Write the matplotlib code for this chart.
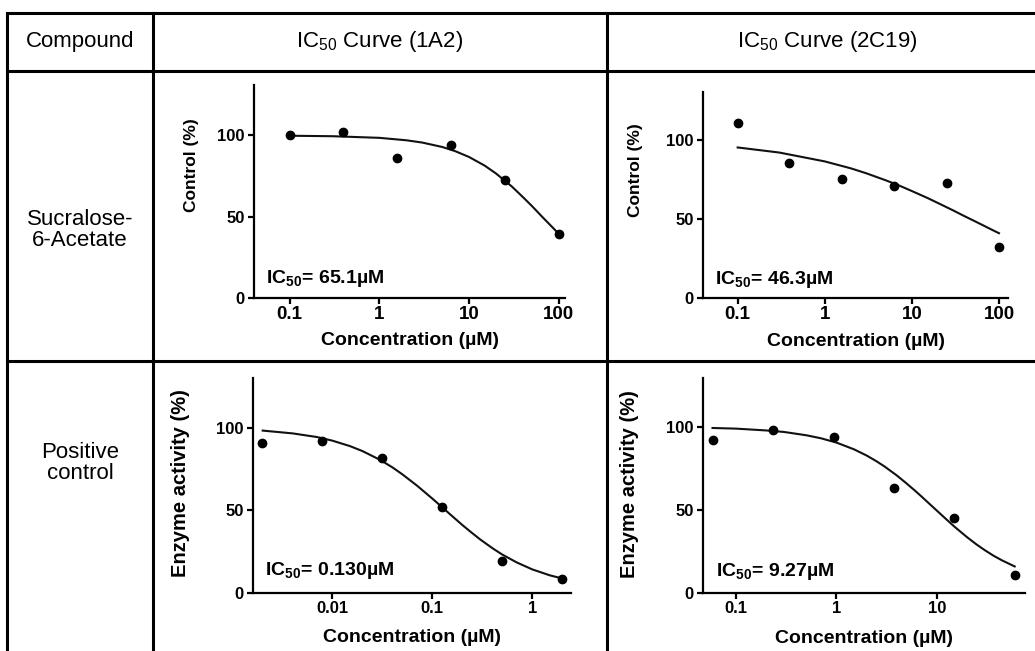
import matplotlib
matplotlib.use('Agg')
import matplotlib.pyplot as plt
from matplotlib.lines import Line2D

plt.rcParams['font.family'] = 'Liberation Sans'
plt.rcParams['mathtext.fontset'] = 'custom'
plt.rcParams['mathtext.rm'] = 'Liberation Sans'
plt.rcParams['mathtext.bf'] = 'Liberation Sans:bold'

# table text
headers = ['Compound', r'IC$_{\mathrm{50}}$ Curve (1A2)', r'IC$_{\mathrm{50}}$ Curve (2C19)']
compounds = ['Sucralose-\n6-Acetate', 'Positive\ncontrol']

# measured points
s6a_conc = [0.1, 0.39, 1.56, 6.25, 25, 100]
s6a_1a2 = [100, 101.9, 86, 94, 72.6, 39.3]
s6a_2c19 = [110.7, 84.9, 74.8, 70.9, 72.3, 32.1]
pc_1a2_conc = [0.00195, 0.0078, 0.031, 0.125, 0.5, 2.0]
pc_1a2 = [90.4, 91.7, 81.7, 51.8, 19.6, 8.4]
pc_2c19_conc = [0.0586, 0.234, 0.94, 3.75, 15, 60]
pc_2c19 = [92.4, 98.4, 94, 63, 45, 11]

# fitted curves
fit_s6a_x = [0.1, 0.3, 1, 2, 3, 5, 7, 10, 15, 20, 30, 40, 50, 65, 80, 100]
fit_s6a_1a2 = [99.8, 99.5, 98.5, 97.0, 95.6, 92.9, 90.3, 86.7, 81.3, 76.5, 68.5, 61.9, 56.6, 50.0, 44.9, 39.4]
fit_s6a_2c19 = [95.0, 91.8, 86.2, 81.8, 78.7, 74.3, 71.2, 67.5, 63.2, 59.9, 55.2, 51.7, 49.1, 46.0, 43.5, 40.9]
fit_pc_1a2_x = [0.002, 0.004, 0.007, 0.01, 0.015, 0.02, 0.03, 0.04, 0.05, 0.07, 0.1, 0.12,
                0.15, 0.2, 0.25, 0.3, 0.4, 0.5, 0.7, 1, 1.5, 2]
fit_pc_1a2 = [98.2, 96.5, 94.3, 92.1, 88.8, 85.8, 80.5, 75.9, 71.8, 65.0, 57.1, 52.9,
              47.7, 41.1, 36.3, 32.5, 27.1, 23.3, 18.5, 14.3, 10.7, 8.8]
fit_pc_2c19_x = [0.058, 0.1, 0.2, 0.3, 0.5, 0.7, 1, 1.5, 2, 2.5, 3, 4, 5, 6, 7, 8.5, 10,
                 12, 15, 20, 25, 30, 37, 45, 60]
fit_pc_2c19 = [99.4, 99.0, 97.9, 97.0, 95.0, 93.2, 90.6, 86.5, 82.8, 79.4, 76.3, 70.8, 66.0,
               61.9, 58.3, 53.6, 49.7, 45.3, 40.0, 33.7, 29.2, 25.9, 22.4, 19.6, 16.0]

ic50_labels = [r'IC$_{\mathbf{50}}$= 65.1µM', r'IC$_{\mathbf{50}}$= 46.3µM',
               r'IC$_{\mathbf{50}}$= 0.130µM', r'IC$_{\mathbf{50}}$= 9.27µM']
ylabels = ['Control (%)', 'Control (%)', 'Enzyme activity (%)', 'Enzyme activity (%)']
xticks_top = [0.1, 1, 10, 100]
xticklabels_top = ['0.1', '1', '10', '100']
xticks_pc1a2 = [0.01, 0.1, 1]
xticklabels_pc1a2 = ['0.01', '0.1', '1']
xticks_pc2c19 = [0.1, 1, 10]
xticklabels_pc2c19 = ['0.1', '1', '10']
yticks = [0, 50, 100]

W, H = 1035, 651


def fx(px):
    return px / W


def fy(py):
    return 1 - py / H


fig = plt.figure(figsize=(W / 100, H / 100), dpi=100)

# table grid
lw_table = 2.2
for y in [13, 71, 361]:
    fig.add_artist(Line2D([fx(7), fx(1035)], [fy(y), fy(y)], transform=fig.transFigure,
                          color='black', lw=lw_table))
for x in [7, 153, 607]:
    fig.add_artist(Line2D([fx(x), fx(x)], [fy(13), fy(651)], transform=fig.transFigure,
                          color='black', lw=lw_table))

for txt, cx in zip(headers, [80, 380, 827]):
    fig.text(fx(cx), fy(42), txt, ha='center', va='center', fontsize=16)
for txt, cy in zip(compounds, [230, 463]):
    fig.text(fx(80), fy(cy), txt, ha='center', va='center', fontsize=16, linespacing=1.0)

# panels: (left, top, right, bottom) in pixels
panels = [
    dict(box=(254, 85, 565, 298), x=s6a_conc, y=s6a_1a2, fx_=fit_s6a_x, fy_=fit_s6a_1a2,
         xlim=(0.04, 117), ylim=(0, 131), ticks=xticks_top, tl=xticklabels_top, tfs=13.5,
         ylab=(199, 165), yfs=12.5, xlab=(410, 332), ann=(0.04, 0.069)),
    dict(box=(703, 92, 1008, 298), x=s6a_conc, y=s6a_2c19, fx_=fit_s6a_x, fy_=fit_s6a_2c19,
         xlim=(0.04, 127), ylim=(0, 130), ticks=xticks_top, tl=xticklabels_top, tfs=13.5,
         ylab=(643, 170), yfs=12.5, xlab=(856, 333), ann=(0.04, 0.07)),
    dict(box=(253, 378, 571, 593), x=pc_1a2_conc, y=pc_1a2, fx_=fit_pc_1a2_x, fy_=fit_pc_1a2,
         xlim=(0.0016, 2.45), ylim=(0, 130), ticks=xticks_pc1a2, tl=xticklabels_pc1a2, tfs=12,
         ylab=(190, 483), yfs=14.5, xlab=(412, 629), ann=(0.039, 0.082)),
    dict(box=(703, 378, 1025, 593), x=pc_2c19_conc, y=pc_2c19, fx_=fit_pc_2c19_x, fy_=fit_pc_2c19,
         xlim=(0.0466, 76), ylim=(0, 129.5), ticks=xticks_pc2c19, tl=xticklabels_pc2c19, tfs=12,
         ylab=(639, 484), yfs=14.5, xlab=(864, 630), ann=(0.04, 0.077)),
]

for i, p in enumerate(panels):
    l, t, r, b = p['box']
    ax = fig.add_axes([fx(l), fy(b), fx(r) - fx(l), (b - t) / H])
    ax.set_xscale('log')
    ax.plot(p['fx_'], p['fy_'], color='#111111', lw=1.5, zorder=2)
    ax.plot(p['x'], p['y'], 'o', color='black', ms=6, zorder=3, clip_on=False)
    ax.set_xlim(p['xlim'])
    ax.set_ylim(p['ylim'])
    ax.set_xticks(p['ticks'], p['tl'])
    ax.minorticks_off()
    ax.set_yticks(yticks)
    for s in ['top', 'right']:
        ax.spines[s].set_visible(False)
    for s in ['left', 'bottom']:
        ax.spines[s].set_linewidth(1.6)
    ax.tick_params(direction='out', length=4.5, width=1.6)
    ax.tick_params(axis='x', labelsize=p['tfs'], pad=1.5)
    ax.tick_params(axis='y', labelsize=12, pad=2)
    for lab in ax.get_xticklabels() + ax.get_yticklabels():
        lab.set_fontweight('bold')
    ax.set_ylabel(ylabels[i], fontsize=p['yfs'], fontweight='bold')
    ax.yaxis.set_label_coords(fx(p['ylab'][0]), fy(p['ylab'][1]), transform=fig.transFigure)
    ax.set_xlabel('Concentration (µM)', fontsize=14, fontweight='bold')
    ax.xaxis.set_label_coords(fx(p['xlab'][0]), fy(p['xlab'][1]), transform=fig.transFigure)
    ax.text(p['ann'][0], p['ann'][1], ic50_labels[i], transform=ax.transAxes,
            fontsize=14, fontweight='bold', va='baseline', ha='left')

fig.savefig('out.png', dpi=100)
